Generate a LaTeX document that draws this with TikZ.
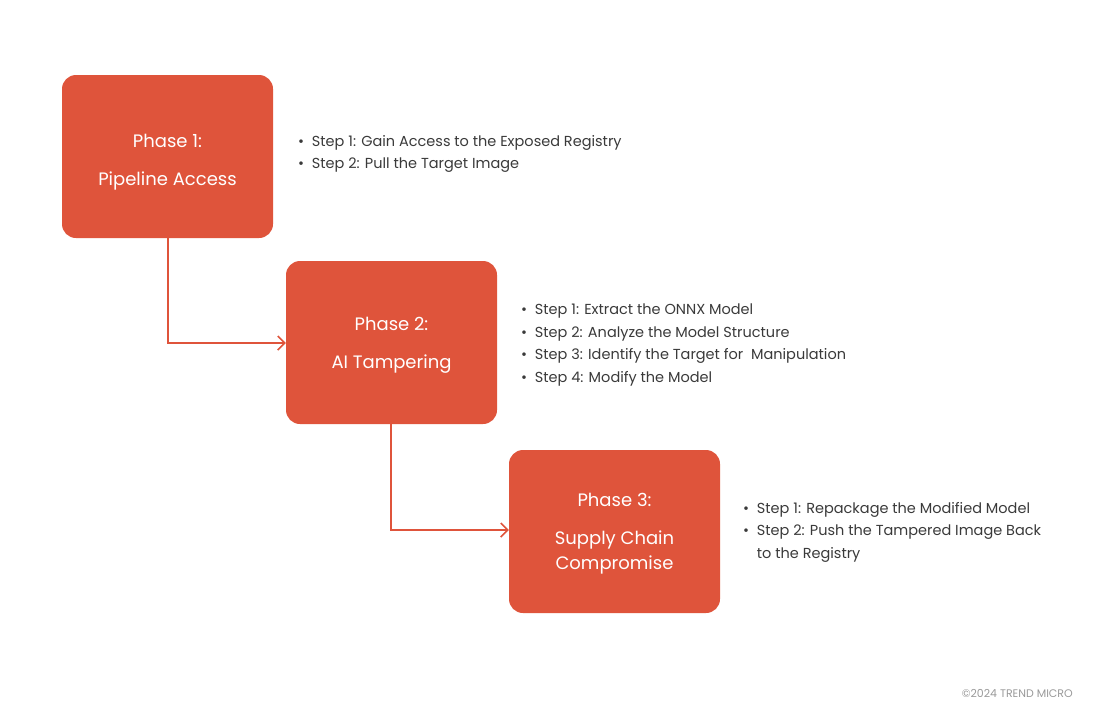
\documentclass[tikz,border=0pt]{standalone}
\usepackage{fontspec}
\setmainfont{Poppins}
\usetikzlibrary{arrows.meta}
\definecolor{ph}{HTML}{DF543B}
\definecolor{tx}{HTML}{3A3A3A}
\begin{document}
\begin{tikzpicture}[x=1pt,y=-1pt,
  phase/.style={fill=ph,rounded corners=14pt,minimum width=211pt,minimum height=163pt,inner sep=0pt},
  ptext/.style={text=white,font=\fontsize{18}{28}\selectfont,align=center},
  conn/.style={draw=ph,line width=1.5pt,-{Straight Barb[length=7pt,width=14pt,line width=1.5pt]}},
  lst/.style={anchor=north west,text=tx,font=\fontsize{14.5}{22.5}\selectfont,align=left,inner sep=0pt}]
\useasboundingbox (0,0) rectangle (1108,724);
\node[phase] (p1) at (167.5,156.5) {};
\node[phase] (p2) at (391.5,342.5) {};
\node[phase] (p3) at (614.5,531.5) {};
\node[ptext] (t1) at (167.5,162.5) {Phase 1:\\[10pt]Pipeline Access};
\node[ptext] (t2) at (391.5,345.5) {Phase 2:\\[10pt]AI Tampering};
\node[ptext] (t3) at (614.5,534) {Phase 3:\\[10pt]Supply Chain\\[-3pt]Compromise};
\draw[conn] (p1.south -| 168,0) |- (p2.west |- 0,343);
\draw[conn] (p2.south -| 391,0) |- (p3.west |- 0,530);
\node[lst] (l1) at (298,135) {•\ \ Step 1: Gain Access to the Exposed Registry\\•\ \ Step 2: Pull the Target Image};
\node[lst] (l2) at (521,304) {•\ \ Step 1: Extract the ONNX Model\\•\ \ Step 2: Analyze the Model Structure\\•\ \ Step 3: Identify the Target for\ \ Manipulation\\•\ \ Step 4: Modify the Model};
\node[lst] (l3) at (743,502) {•\ \ Step 1: Repackage the Modified Model\\•\ \ Step 2: Push the Tampered Image Back\\\phantom{•\ \ }to the Registry};
\node[anchor=east,text=gray!80,font=\fontsize{11}{12}\selectfont,inner sep=0pt] (c) at (1073,693) {©2024 TREND MICRO};
\end{tikzpicture}
\end{document}
